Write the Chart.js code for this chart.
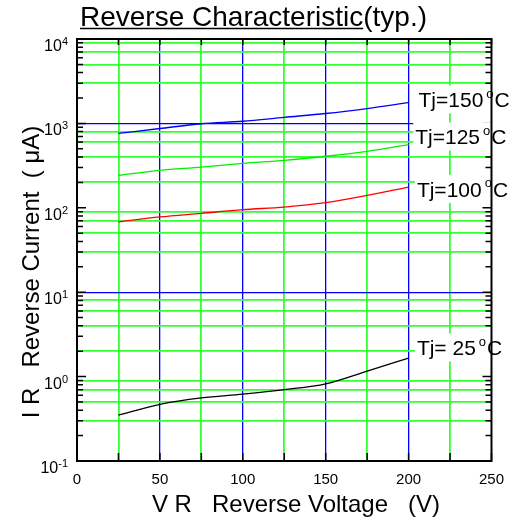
<!DOCTYPE html>
<html>
<head>
<meta charset="utf-8">
<script src="https://cdn.jsdelivr.net/npm/chart.js@4.4.1/dist/chart.umd.min.js"></script>
<style>
  body { margin: 0; background: #fff; }
  #wrap { width: 514px; height: 522px; }
</style>
</head>
<body>
<div id="wrap"><canvas id="reverse-chart" width="514" height="522"></canvas></div>
<script>
// data =========================================================

const voltage = [25, 50, 75, 100, 125, 150, 175, 200];

const ir150 = [760, 870, 990, 1060, 1180, 1310, 1500, 1760];
const ir125 = [242, 277, 303, 336, 365, 408, 467, 560];
const ir100 = [68, 78, 86, 95, 102, 115, 140, 176];
const ir25 = [0.35, 0.47, 0.56, 0.62, 0.70, 0.82, 1.16, 1.66];

const seriesNames = ['150', '125', '100', ' 25'];
const xTicks = [0, 25, 50, 75, 100, 125, 150, 175, 200, 225, 250];
const decades = [-1, 0, 1, 2, 3, 4];

const FONT = '"Liberation Sans", Arial, sans-serif';

function pts(values) {
  return voltage.map((v, i) => ({ x: v, y: values[i] }));
}

// y ticks 1..9 of every decade
const yTicks = [];
decades.forEach(d => {
  for (let m = 1; m <= 9; m++) {
    if (d === 4 && m > 1) break;
    yTicks.push(Number((m * Math.pow(10, d)).toPrecision(3)));
  }
});

function isDecade(v) {
  const l = Math.log10(v);
  return Math.abs(l - Math.round(l)) < 1e-6;
}

// text / frame / ticks plugin ==================================

const labelPos = [
  { text: '150', x: 206, y: 1870 },
  { text: '125', x: 204, y: 682 },
  { text: '100', x: 205, y: 163 },
  { text: ' 25', x: 205, y: 2.15 }
];

const decorPlugin = {
  id: 'decor',
  afterDatasetsDraw(chart) {
    const ctx = chart.ctx;
    const xs = chart.scales.x;
    const ys = chart.scales.y;
    const area = chart.chartArea;

    // inward tick marks
    ctx.save();
    ctx.strokeStyle = '#000';
    ctx.lineWidth = 1.5;
    ctx.beginPath();
    yTicks.forEach(v => {
      const py = ys.getPixelForValue(v);
      const len = isDecade(v) ? 9 : 6;
      ctx.moveTo(area.left, py); ctx.lineTo(area.left + len, py);
      ctx.moveTo(area.right, py); ctx.lineTo(area.right - len, py);
    });
    xTicks.forEach(v => {
      const px = xs.getPixelForValue(v);
      ctx.moveTo(px, area.top); ctx.lineTo(px, area.top + 6);
      ctx.moveTo(px, area.bottom); ctx.lineTo(px, area.bottom - 8);
    });
    ctx.stroke();
    ctx.restore();

    // Tj labels with white box
    ctx.save();
    labelPos.forEach(l => {
      const px = xs.getPixelForValue(l.x);
      const py = ys.getPixelForValue(l.y);
      ctx.font = '21px ' + FONT;
      const w1 = ctx.measureText('Tj=' + l.text).width;
      ctx.font = '13px ' + FONT;
      const w2 = ctx.measureText('o').width;
      ctx.font = '21px ' + FONT;
      const w3 = ctx.measureText('C').width;
      ctx.fillStyle = '#fff';
      ctx.fillRect(px - 2, py - 15, w1 + w2 + w3 + 7, 28);
      ctx.fillStyle = '#000';
      ctx.textBaseline = 'middle';
      ctx.textAlign = 'left';
      ctx.fillText('Tj=' + l.text, px, py + 1);
      ctx.font = '13px ' + FONT;
      ctx.fillText('o', px + w1 + 3, py - 6);
      ctx.font = '21px ' + FONT;
      ctx.fillText('C', px + w1 + w2 + 4, py + 1);
    });
    ctx.restore();

    // frame
    ctx.save();
    ctx.strokeStyle = '#000';
    ctx.lineWidth = 2;
    ctx.strokeRect(area.left, area.top, area.right - area.left, area.bottom - area.top);
    ctx.restore();

    // y tick labels 10^n
    ctx.save();
    ctx.fillStyle = '#000';
    ctx.textBaseline = 'alphabetic';
    decades.forEach(d => {
      const py = ys.getPixelForValue(Math.pow(10, d));
      const exp = String(d);
      ctx.font = '11px ' + FONT;
      const we = ctx.measureText(exp).width;
      ctx.textAlign = 'right';
      ctx.fillText(exp, area.left - 9, py + 6);
      ctx.font = '16px ' + FONT;
      ctx.fillText('10', area.left - 9 - we, py + 12);
    });
    ctx.restore();

    // titles
    ctx.save();
    ctx.fillStyle = '#000';
    ctx.strokeStyle = '#000';
    ctx.textBaseline = 'alphabetic';
    ctx.textAlign = 'left';
    ctx.font = '28px ' + FONT;
    const t1 = 'Reverse Characteristic';
    const wT1 = ctx.measureText(t1).width;
    const tx = 80;
    ctx.fillText(t1, tx, 26);
    ctx.fillText('(typ.)', tx + wT1, 26);
    ctx.lineWidth = 1.5;
    ctx.beginPath();
    ctx.moveTo(tx, 28.5); ctx.lineTo(tx + wT1, 28.5);
    ctx.stroke();

    ctx.font = '24px ' + FONT;
    ctx.textAlign = 'center';
    ctx.fillText('V R   Reverse Voltage   (V)', 296, 512);

    ctx.translate(39, 272);
    ctx.rotate(-Math.PI / 2);
    ctx.fillText('I R   Reverse Current  ( \u03bcA)', 0, 0);
    ctx.restore();
  }
};

// chart ========================================================

const reverseCtx = document.getElementById('reverse-chart').getContext('2d');

const reverseChart = new Chart(reverseCtx, {
  type: 'line',
  data: {
    datasets: [{
      label: seriesNames[0],
      data: pts(ir150),
      borderColor: '#0000ff',
      borderWidth: 1.3
    }, {
      label: seriesNames[1],
      data: pts(ir125),
      borderColor: '#00ee00',
      borderWidth: 1.3
    }, {
      label: seriesNames[2],
      data: pts(ir100),
      borderColor: '#ff0000',
      borderWidth: 1.3
    }, {
      label: seriesNames[3],
      data: pts(ir25),
      borderColor: '#000000',
      borderWidth: 1.3
    }]
  },
  options: {
    responsive: false,
    animation: false,
    layout: {
      padding: { top: 39, right: 20, left: 0, bottom: 0 }
    },
    elements: {
      point: { radius: 0 },
      line: { cubicInterpolationMode: 'monotone', fill: false }
    },
    plugins: {
      legend: { display: false },
      tooltip: { enabled: false }
    },
    scales: {
      x: {
        type: 'linear',
        min: 0,
        max: 250,
        afterBuildTicks: scale => { scale.ticks = xTicks.map(v => ({ value: v })); },
        afterFit: scale => { scale.height = 61; },
        border: { display: false },
        grid: {
          drawTicks: false,
          lineWidth: c => (c.tick.value % 50 === 0 ? 1.3 : 1.8),
          color: c => {
            const v = c.tick.value;
            if (v === 0 || v === 250) return 'rgba(0,0,0,0)';
            return v % 50 === 0 ? '#0000ff' : '#33ff33';
          }
        },
        ticks: {
          padding: 10,
          color: '#000',
          font: { family: FONT, size: 15 },
          maxRotation: 0,
          callback: v => (v % 50 === 0 ? String(v) : '')
        }
      },
      y: {
        type: 'logarithmic',
        min: 0.1,
        max: 10000,
        afterBuildTicks: scale => { scale.ticks = yTicks.map(v => ({ value: v })); },
        afterFit: scale => { scale.width = 77; },
        border: { display: false },
        grid: {
          drawTicks: false,
          lineWidth: c => (isDecade(c.tick.value) ? 1.3 : 1.8),
          color: c => {
            const v = c.tick.value;
            if (v === 0.1 || v === 10000) return 'rgba(0,0,0,0)';
            return isDecade(v) ? '#0000ff' : '#33ff33';
          }
        },
        ticks: {
          display: true,
          callback: () => ''
        }
      }
    }
  },
  plugins: [decorPlugin]
});
</script>
</body>
</html>
